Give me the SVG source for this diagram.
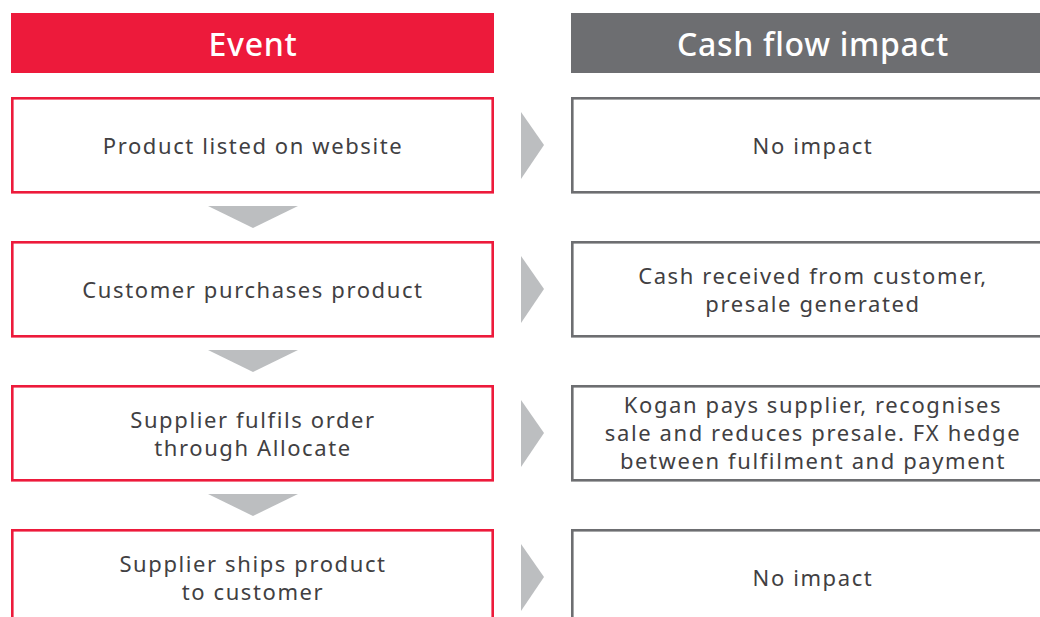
<svg xmlns="http://www.w3.org/2000/svg" width="1040" height="617" viewBox="0 0 1040 617">
<style>
.ev{fill:#fff;stroke:#ed1a3b;stroke-width:2.6}
.cf{fill:#fff;stroke:#6d6e71;stroke-width:2.6}
.t{font-family:"Noto Sans","DejaVu Sans",sans-serif;font-size:22px;letter-spacing:1.6px;fill:#414042;text-anchor:middle;dominant-baseline:central}
.h{font-family:"Noto Sans","DejaVu Sans",sans-serif;font-size:32px;font-weight:500;letter-spacing:0.7px;fill:#fff;text-anchor:middle;dominant-baseline:central}
.ar{fill:#bcbec0}
</style>
<rect width="1040" height="617" fill="#fff"/>
<g id="header-event"><rect x="11" y="13" width="483" height="60" fill="#ed1a3b"/><text class="h" x="253" y="43">Event</text></g>
<g id="header-cash"><rect x="571" y="13" width="469" height="60" fill="#6d6e71"/><text class="h" x="813" y="43">Cash flow impact</text></g>

<g id="event1"><rect class="ev" x="12.3" y="98.3" width="480.4" height="94"/><text class="t" x="253" y="145">Product listed on website</text></g>
<g id="event2"><rect class="ev" x="12.3" y="242.3" width="480.4" height="94"/><text class="t" x="253" y="289">Customer purchases product</text></g>
<g id="event3"><rect class="ev" x="12.3" y="386.3" width="480.4" height="94"/><text class="t" x="253" y="419">Supplier fulfils order</text><text class="t" x="253" y="447">through Allocate</text></g>
<g id="event4"><rect class="ev" x="12.3" y="530.3" width="480.4" height="94"/><text class="t" x="253" y="563">Supplier ships product</text><text class="t" x="253" y="591">to customer</text></g>

<g id="cash1"><rect class="cf" x="572.3" y="98.3" width="480" height="94"/><text class="t" x="813" y="145">No impact</text></g>
<g id="cash2"><rect class="cf" x="572.3" y="242.3" width="480" height="94"/><text class="t" x="813" y="275">Cash received from customer,</text><text class="t" x="813" y="303">presale generated</text></g>
<g id="cash3"><rect class="cf" x="572.3" y="386.3" width="480" height="94"/><text class="t" x="813" y="404">Kogan pays supplier, recognises</text><text class="t" x="813" y="432">sale and reduces presale. FX hedge</text><text class="t" x="813" y="460">between fulfilment and payment</text></g>
<g id="cash4"><rect class="cf" x="572.3" y="530.3" width="480" height="94"/><text class="t" x="813" y="577">No impact</text></g>

<g id="connectors">
<polygon class="ar" points="208,206 298,206 253,228"/>
<polygon class="ar" points="208,350 298,350 253,372"/>
<polygon class="ar" points="208,494 298,494 253,516"/>
<polygon class="ar" points="521,112 544,145 521,179"/>
<polygon class="ar" points="521,256 544,289 521,323"/>
<polygon class="ar" points="521,400 544,433 521,467"/>
<polygon class="ar" points="521,544 544,577 521,611"/>
</g>
</svg>
